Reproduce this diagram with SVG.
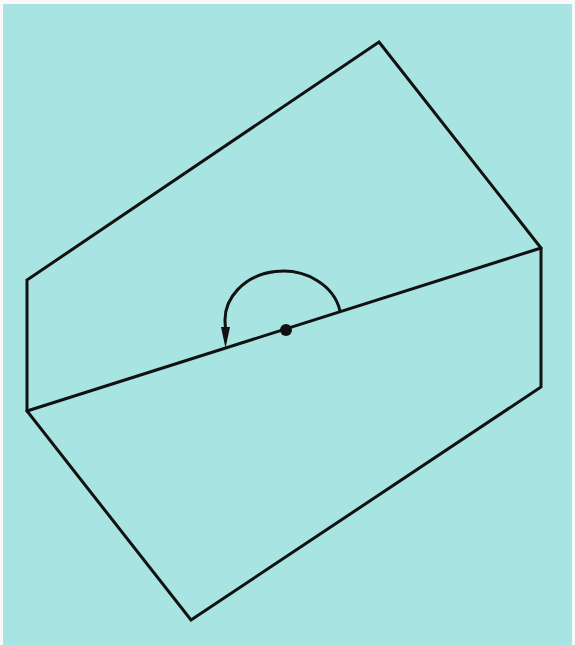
<svg xmlns="http://www.w3.org/2000/svg" width="575" height="645" viewBox="0 0 575 645">
<style>
.ln{fill:none;stroke:#111;stroke-width:3;stroke-linejoin:miter;stroke-linecap:round}
</style>
<rect x="0" y="0" width="575" height="645" fill="#fbf8f8"/>
<rect x="3" y="4" width="569" height="641" fill="#a8e4e1"/>
<g id="shape">
<polygon class="ln" points="379,42 541,248 541,387 191,620 27,411 27,280"/>
</g>
<g id="connectors">
<line class="ln" x1="27" y1="411" x2="541" y2="248"/>
<path class="ln" stroke-width="2.8" d="M340,311 A58,49 0 0 0 225.2,324 L225.5,333"/>
<polygon points="221,327 230,327 225.5,348" fill="#111"/>
</g>
<g id="center">
<circle cx="286" cy="330" r="6" fill="#111"/>
</g>
</svg>
